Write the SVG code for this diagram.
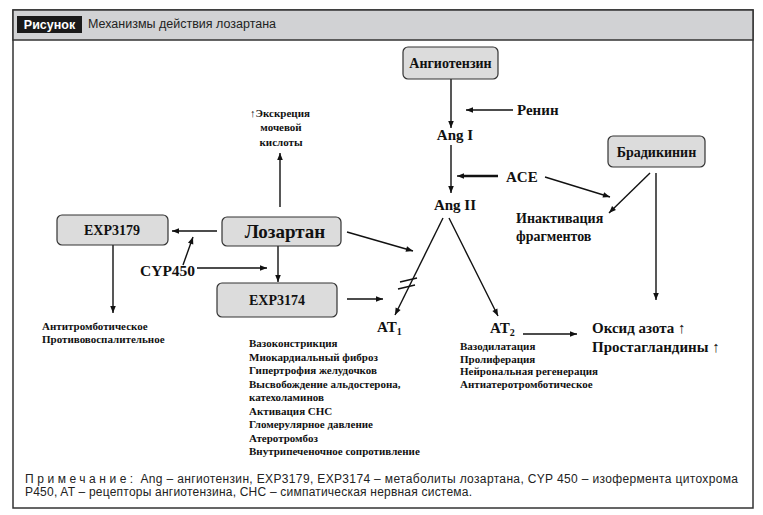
<svg xmlns="http://www.w3.org/2000/svg" width="763" height="515" viewBox="0 0 763 515">
<style>
.b{font-family:"Liberation Serif","Times New Roman",serif;font-weight:bold;fill:#111}
.s{font-family:"Liberation Sans",Arial,sans-serif;fill:#222}
.box{fill:#dcdcdc;stroke:#333;stroke-width:1.2}
.c{stroke:#111;stroke-width:1.4;fill:none}
.m{marker-end:url(#ah)}
.mid{text-anchor:middle}
</style>
<defs>
<marker id="ah" viewBox="0 0 10 10" refX="10" refY="5" markerWidth="8" markerHeight="7" markerUnits="userSpaceOnUse" orient="auto">
<path d="M0,1 L10,5 L0,9 z" fill="#111"/>
</marker>
</defs>
<rect width="763" height="515" fill="#fff"/>
<g id="frame">
<rect x="13" y="10" width="740" height="498" fill="#fff" stroke="#333" stroke-width="1.5"/>
<rect x="13" y="10" width="740" height="30" fill="#d1d2d4" stroke="#333" stroke-width="1.5"/>
<rect x="17" y="16" width="65" height="17" fill="#1a1a1a"/>
<text class="s" x="49.5" y="29" text-anchor="middle" font-size="12.5" font-weight="bold" style="fill:#fff">Рисунок</text>
<text class="s" x="88" y="28" font-size="12.5">Механизмы действия лозартана</text>
</g>
<g id="connectors">
<path class="c m" d="M451,79 L451,128"/>
<path class="c m" d="M513,110 L466,110"/>
<path class="c m" d="M451,145 L451,193"/>
<path class="c" d="M498,176 L464,176" style="stroke-width:2.6"/>
<path class="c m" d="M466,176 L457,176"/>
<path class="c m" d="M545,177 L610,197"/>
<path class="c m" d="M650,173 L609,213"/>
<path class="c m" d="M656,173 L656,300"/>
<path class="c m" d="M443,218 L395,315"/>
<path class="c m" d="M449,218 L498,316"/>
<path class="c m" d="M347,232 L413,251"/>
<path class="c m" d="M347,299 L383,299"/>
<path class="c m" d="M217,231 L172,231"/>
<path class="c m" d="M183,265 L193,237"/>
<path class="c m" d="M197,268 L267,268"/>
<path class="c m" d="M278,246 L278,282"/>
<path class="c m" d="M113,245 L113,313"/>
<path class="c m" d="M280,207 L280,153"/>
<path class="c m" d="M523,334 L577,334"/>
<path class="c" d="M400,282 L417,278 M398,289 L415,285"/>
</g>
<g id="angiotensin">
<rect class="box" x="403" y="47" width="95" height="32" rx="5"/>
<text class="b mid" x="450.5" y="68" font-size="14">Ангиотензин</text>
</g>
<g id="renin"><text class="b" x="517" y="115" font-size="15">Ренин</text></g>
<g id="angI"><text class="b mid" x="455" y="140" font-size="15">Ang I</text></g>
<g id="ace"><text class="b" x="506" y="182" font-size="15">ACE</text></g>
<g id="angII"><text class="b mid" x="455" y="210" font-size="15">Ang II</text></g>
<g id="bradykinin">
<rect class="box" x="608" y="136" width="97" height="31" rx="5"/>
<text class="b mid" x="656.5" y="157" font-size="14">Брадикинин</text>
</g>
<g id="inactivation">
<text class="b" x="516" y="223" font-size="14">Инактивация</text>
<text class="b" x="516" y="241" font-size="14">фрагментов</text>
</g>
<g id="excretion">
<text class="b mid" x="280" y="117" font-size="11">↑Экскреция</text>
<text class="b mid" x="281" y="131" font-size="11">мочевой</text>
<text class="b mid" x="281" y="146" font-size="11">кислоты</text>
</g>
<g id="losartan">
<rect class="box" x="222" y="217" width="119" height="29" rx="5"/>
<text class="b mid" x="285" y="238" font-size="19">Лозартан</text>
</g>
<g id="exp3179">
<rect class="box" x="57" y="215" width="111" height="30" rx="5"/>
<text class="b mid" x="112" y="235" font-size="14">EXP3179</text>
</g>
<g id="cyp450"><text class="b" x="140" y="276" font-size="15.5">CYP450</text></g>
<g id="exp3174">
<rect class="box" x="217" y="283" width="120" height="34" rx="5"/>
<text class="b mid" x="277" y="305" font-size="14">EXP3174</text>
</g>
<g id="antithrombotic">
<text class="b" x="42" y="330" font-size="11">Антитромботическое</text>
<text class="b" x="42" y="343" font-size="11">Противовоспалительное</text>
</g>
<g id="at1">
<text class="b" x="377" y="332" font-size="15">AT<tspan font-size="10" dy="3">1</tspan></text>
</g>
<g id="at1effects">
<text class="b" x="249" y="347" font-size="11">Вазоконстрикция</text>
<text class="b" x="249" y="360.5" font-size="11">Миокардиальный фиброз</text>
<text class="b" x="249" y="374" font-size="11">Гипертрофия желудочков</text>
<text class="b" x="249" y="387.5" font-size="11">Высвобождение альдостерона,</text>
<text class="b" x="249" y="401" font-size="11">катехоламинов</text>
<text class="b" x="249" y="414.5" font-size="11">Активация СНС</text>
<text class="b" x="249" y="428" font-size="11">Гломерулярное давление</text>
<text class="b" x="249" y="441.5" font-size="11">Атеротромбоз</text>
<text class="b" x="249" y="455" font-size="11">Внутрипеченочное сопротивление</text>
</g>
<g id="at2">
<text class="b" x="490" y="333" font-size="15">AT<tspan font-size="10" dy="3">2</tspan></text>
</g>
<g id="at2effects">
<text class="b" x="460" y="350" font-size="11">Вазодилатация</text>
<text class="b" x="460" y="362.5" font-size="11">Пролиферация</text>
<text class="b" x="460" y="375" font-size="11">Нейрональная регенерация</text>
<text class="b" x="460" y="387.5" font-size="11">Антиатеротромботическое</text>
</g>
<g id="no">
<text class="b" x="592" y="333" font-size="15">Оксид азота ↑</text>
<text class="b" x="592" y="352" font-size="15">Простагландины ↑</text>
</g>
<g id="note">
<text class="s" x="25" y="483" font-size="12" textLength="713" lengthAdjust="spacing"><tspan letter-spacing="3.2">Примечание:</tspan> Ang – ангиотензин, EXP3179, EXP3174 – метаболиты лозартана, CYP 450 – изофермента цитохрома</text>
<text class="s" x="25" y="495.5" font-size="12" textLength="447" lengthAdjust="spacing">P450, AT – рецепторы ангиотензина, СНС – симпатическая нервная система.</text>
</g>
</svg>
